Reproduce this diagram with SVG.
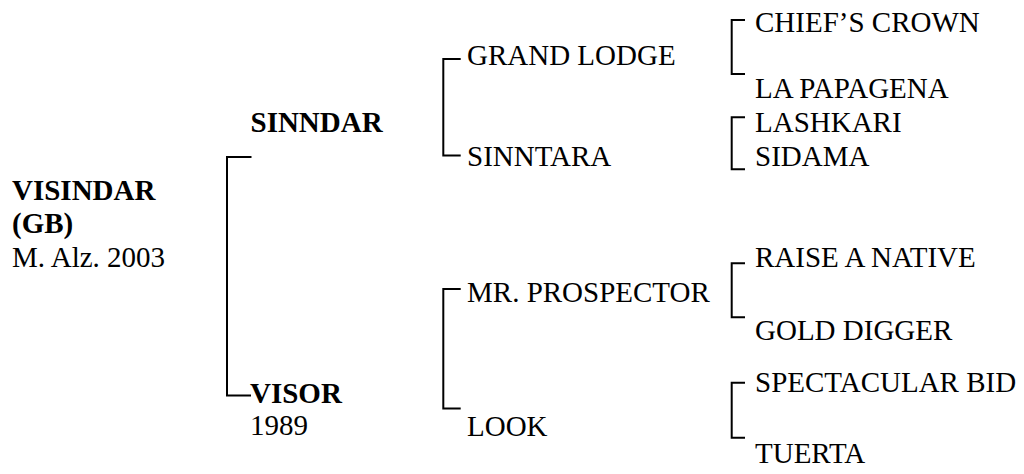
<svg xmlns="http://www.w3.org/2000/svg" width="1024" height="474" viewBox="0 0 1024 474">
<style>
text{font-size:29px;fill:#000}
.b{font-weight:bold}
.br{fill:none;stroke:#000;stroke-width:2;stroke-linejoin:miter}
</style>
<rect width="1024" height="474" fill="#fff"/>
<g id="connectors">
<path class="br" d="M251.5 157 H227 V395.5 H251"/>
<path class="br" d="M460.7 59 H443.3 V155.5 H460.7"/>
<path class="br" d="M460.7 289 H443.3 V408.5 H460.7"/>
<path class="br" d="M745 20 H731.7 V74 H745"/>
<path class="br" d="M745 117.3 H731.7 V169.3 H745"/>
<path class="br" d="M745 263.3 H731.7 V317.3 H745"/>
<path class="br" d="M745 382.7 H731.7 V437.7 H745"/>
</g>
<g font-family="Liberation Serif, Tinos, DejaVu Serif, serif">
<g id="visindar"><text class="b" x="12" y="200">VISINDAR</text><text class="b" x="12" y="233">(GB)</text><text x="12" y="266.7">M. Alz. 2003</text></g>
<g id="sinndar"><text class="b" x="250.5" y="132.3">SINNDAR</text></g>
<g id="visor"><text class="b" x="250" y="402.7">VISOR</text><text x="250" y="434.5">1989</text></g>
<g id="grand-lodge"><text x="467" y="65">GRAND LODGE</text></g>
<g id="sinntara"><text x="467" y="166">SINNTARA</text></g>
<g id="mr-prospector"><text x="467" y="301.7">MR. PROSPECTOR</text></g>
<g id="look"><text x="467" y="436">LOOK</text></g>
<g id="chiefs-crown"><text x="755" y="31.7">CHIEF’S CROWN</text></g>
<g id="la-papagena"><text x="755" y="98.3">LA PAPAGENA</text></g>
<g id="lashkari"><text x="755" y="132.3">LASHKARI</text></g>
<g id="sidama"><text x="755" y="165.7">SIDAMA</text></g>
<g id="raise-a-native"><text x="755" y="266.7">RAISE A NATIVE</text></g>
<g id="gold-digger"><text x="755" y="340">GOLD DIGGER</text></g>
<g id="spectacular-bid"><text x="755" y="391.7">SPECTACULAR BID</text></g>
<g id="tuerta"><text x="755" y="462.7">TUERTA</text></g>
</g>
</svg>
